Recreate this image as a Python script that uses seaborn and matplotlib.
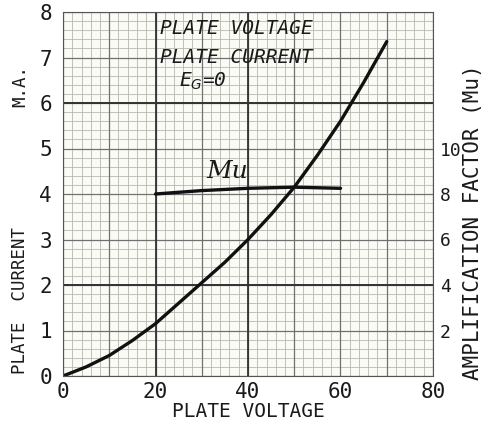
import matplotlib
matplotlib.use("Agg")
import matplotlib.pyplot as plt
import seaborn as sns
import numpy as np
import pandas as pd

# Data
voltage = [0, 5, 10, 15, 20, 25, 30, 35, 40, 45, 50, 55, 60, 65, 70]
current_ma = [0, 0.2, 0.45, 0.78, 1.15, 1.6, 2.05, 2.5, 3.0, 3.55, 4.15, 4.85, 5.6, 6.45, 7.35]
mu_voltage = [20, 30, 40, 50, 60]
mu_values = [8.0, 8.15, 8.25, 8.3, 8.25]
x_ticks = [0, 20, 40, 60, 80]
x_ticklabels = ["0", "20", "40", "60", "80"]
y_ticks = [0, 1, 2, 3, 4, 5, 6, 7, 8]
y2_ticks = [2, 4, 6, 8, 10]

sns.set_style("white")
plt.rcParams['font.family'] = ['DejaVu Sans Mono', 'DejaVu Sans']

fig = plt.figure(figsize=(4.85, 4.32), dpi=100)
fig.patch.set_facecolor("white")
ax = fig.add_axes([63/485, 1-376/432, (433-63)/485, (376-12)/432])
ax.set_facecolor("#fbfbf6")

# graph paper grid
for x in np.arange(0, 80.1, 2):
    ax.axvline(x, color="#b8b8b0", lw=0.6, zorder=0)
for y in np.arange(0, 8.01, 0.2):
    ax.axhline(y, color="#b8b8b0", lw=0.6, zorder=0)
for x in np.arange(0, 80.1, 10):
    ax.axvline(x, color="#707070", lw=0.9, zorder=0)
for y in np.arange(0, 8.01, 1):
    ax.axhline(y, color="#707070", lw=0.9, zorder=0)
for x in [20, 40]:
    ax.axvline(x, color="#333333", lw=1.3, zorder=0)
for y in [2, 6]:
    ax.axhline(y, color="#333333", lw=1.4, zorder=0)

df = pd.DataFrame({"V": voltage, "I": current_ma})
sns.lineplot(data=df, x="V", y="I", ax=ax, color="#111111", lw=2.4)

ax.set_xlim(0, 80)
ax.set_ylim(0, 8)
ax.set_xticks(x_ticks)
ax.set_xticklabels(x_ticklabels)
ax.set_yticks(y_ticks)
ax.tick_params(axis="both", length=0, labelsize=15, colors="#1a1a1a")
ax.tick_params(axis="y", pad=8)
ax.tick_params(axis="x", pad=4)
ax.set_xlabel("PLATE VOLTAGE", fontsize=14, labelpad=0, color="#1a1a1a")
ax.set_ylabel("")
for s in ax.spines.values():
    s.set_color("#555555")
    s.set_linewidth(0.8)

ax2 = ax.twinx()
mdf = pd.DataFrame({"V": mu_voltage, "mu": mu_values})
sns.lineplot(data=mdf, x="V", y="mu", ax=ax2, color="#111111", lw=2.4)
ax2.set_ylim(0, 16)
ax2.set_yticks(y2_ticks)
ax2.tick_params(axis="y", length=0, labelsize=13, pad=5, colors="#1a1a1a")
ax2.set_ylabel("")
for s in ax2.spines.values():
    s.set_visible(False)

# axis labels
fig.text(20/485, 1-300/432, "PLATE  CURRENT", rotation=90, ha="center", va="center",
         fontsize=12.5, color="#1a1a1a")
fig.text(20/485, 1-86/432, "M.A.", rotation=90, ha="center", va="center",
         fontsize=12.5, color="#1a1a1a")
fig.text(473/485, 1-222/432, "AMPLIFICATION FACTOR (Mu)", rotation=90, ha="center",
         va="center", fontsize=15, color="#1a1a1a")

# annotations
ax.text(21, 7.64, "PLATE VOLTAGE", fontsize=14, style="oblique", color="#1a1a1a", va="center")
ax.text(21, 7.0, "PLATE CURRENT", fontsize=14, style="oblique", color="#1a1a1a", va="center")
ax.text(25, 6.48, "E$_G$=0", fontsize=14, style="oblique", color="#1a1a1a", va="center")
ax.text(31, 4.5, "Mu", fontsize=18, family="DejaVu Serif", style="italic", color="#1a1a1a", va="center")

fig.savefig("out.png", dpi=100)
